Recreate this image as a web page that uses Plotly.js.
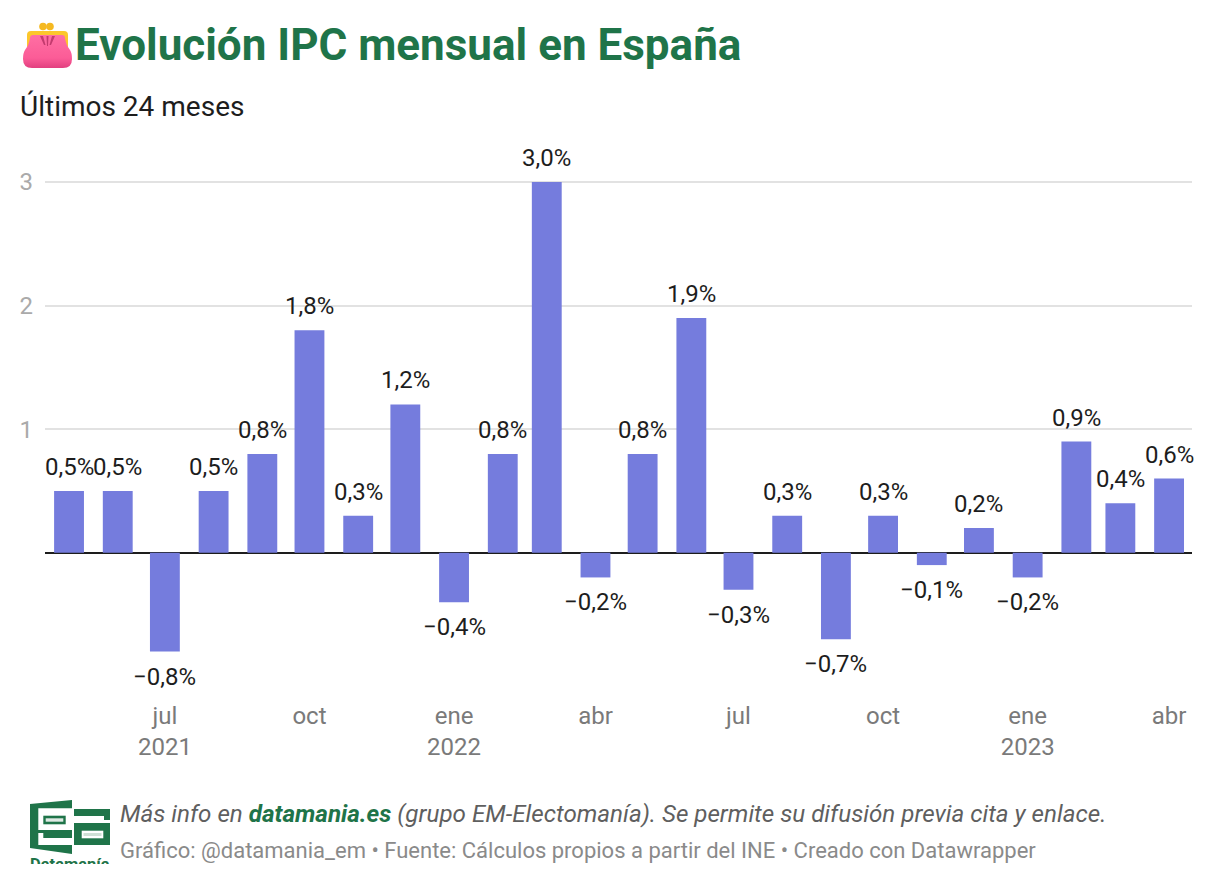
<!DOCTYPE html>
<html lang="es">
<head>
<meta charset="utf-8">
<title>Evolución IPC mensual en España</title>
<script src="https://cdn.plot.ly/plotly-3.0.1.min.js"></script>
<style>
  html, body { margin: 0; padding: 0; background: #fff; }
  #chart { width: 1212px; height: 884px; }
</style>
</head>
<body>
<div id="chart"></div>
<script>
var months = ['2021-05-01', '2021-06-01', '2021-07-01', '2021-08-01', '2021-09-01', '2021-10-01',
  '2021-11-01', '2021-12-01', '2022-01-01', '2022-02-01', '2022-03-01', '2022-04-01', '2022-05-01',
  '2022-06-01', '2022-07-01', '2022-08-01', '2022-09-01', '2022-10-01', '2022-11-01', '2022-12-01',
  '2023-01-01', '2023-02-01', '2023-03-01', '2023-04-01'];
var ipc = [0.5, 0.5, -0.8, 0.5, 0.8, 1.8, 0.3, 1.2, -0.4, 0.8, 3.0, -0.2, 0.8, 1.9, -0.3, 0.3,
  -0.7, 0.3, -0.1, 0.2, -0.2, 0.9, 0.4, 0.6];
var tickMonths = ['2021-07-01', '2021-10-01', '2022-01-01', '2022-04-01', '2022-07-01', '2022-10-01',
  '2023-01-01', '2023-04-01'];
var tickLabels = ['jul<br>2021', 'oct', 'ene<br>2022', 'abr', 'jul', 'oct', 'ene<br>2023', 'abr'];
var yTicks = [0, 1, 2, 3];
var yLabels = ['', '1', '2', '3'];

var FONT = 'Roboto, sans-serif';
var GREEN = '#1f7449';
var W = 1212, H = 884;
var M = { l: 45, r: 20, t: 145, b: 183 };
var DAY = 86400000;

// pixel position on the page -> paper coordinates
function px(x) { return (x - M.l) / (W - M.l - M.r); }
function py(y) { return 1 - (y - M.t) / (H - M.t - M.b); }

function pageText(x, y, text, size, color) {
  return {
    xref: 'paper', yref: 'paper', x: px(x - 2), y: py(y), text: text, showarrow: false,
    xanchor: 'left', yanchor: 'middle', align: 'left',
    font: { family: FONT, size: size, color: color }
  };
}

function pageImage(svg, x, y, w, h) {
  return {
    source: 'data:image/svg+xml;charset=utf-8,' + encodeURIComponent(svg),
    xref: 'paper', yref: 'paper', x: px(x), y: py(y),
    sizex: w / (W - M.l - M.r), sizey: h / (H - M.t - M.b),
    xanchor: 'left', yanchor: 'top', sizing: 'stretch', layer: 'above'
  };
}

function fmtValue(v) {
  var s = Math.abs(v).toFixed(1).replace('.', ',') + '%';
  return v < 0 ? '\u2212' + s : s;
}

var purse = "<svg xmlns='http://www.w3.org/2000/svg' viewBox='0 0 49 47'>" +
  "<defs><linearGradient id='g' x1='0' y1='0' x2='0' y2='1'><stop offset='0' stop-color='#ff6fa3'/>" +
  "<stop offset='0.7' stop-color='#fb5c97'/><stop offset='1' stop-color='#e23f7f'/></linearGradient></defs>" +
  "<circle cx='20' cy='4.5' r='3.8' fill='#f5b921'/><circle cx='27' cy='4.5' r='3.8' fill='#f5b921'/>" +
  "<path d='M4 28 V13 Q4 9 8 9 H41 Q45 9 45 13 V28 Z' fill='#fcc72c'/>" +
  "<path d='M7 16 Q7 13 10 13 H39 Q42 13 42 16 Q43 23 47 28 Q49 31 49 37 Q49 46 40 46 H9 Q0 46 0 37 Q0 31 2 28 Q6 23 7 16 Z' fill='url(#g)'/>" +
  "<path d='M23.5 14 L24 24 L25 24 L25.5 14 Z M29 14 L26.5 23 L28 23 L32 14 Z M20 14 L22.5 23 L21 23 L17 14 Z' fill='#c33a6e'/>" +
  "</svg>";

var logo = "<svg xmlns='http://www.w3.org/2000/svg' viewBox='0 0 80 64'>" +
  "<g fill='" + GREEN + "'>" +
  "<path d='M0 4 L42 0 V8.3 H8.3 V30 H42 V38 H13.3 V33 H8.3 V45 H42 V54 L0 48 Z'/>" +
  "<rect x='13.3' y='15.7' width='22.4' height='8.6'/>" +
  "<path d='M44 9 H80 V20 H74 V16 H44 Z'/>" +
  "<rect x='44' y='23' width='36' height='22'/>" +
  "</g>" +
  "<rect x='15.7' y='18.3' width='17.6' height='3.4' fill='#dfeae4'/>" +
  "<rect x='51.7' y='30.7' width='21.6' height='7.6' fill='#fff'/><rect x='53.5' y='33' width='18' height='3' fill='#cfe0d6'/>" +
  "<text x='0' y='70' font-family='Roboto' font-weight='700' font-size='16.5' fill='" + GREEN + "'>Datamanía</text>" +
  "</svg>";

var trace = {
  type: 'bar',
  x: months,
  y: ipc,
  marker: { color: '#757cdd', line: { width: 0 } },
  width: 19 * DAY,
  hoverinfo: 'x+y'
};

// value labels sit a fixed gap off the bar end
var valueLabels = months.map(function (m, i) {
  var up = ipc[i] >= 0;
  return {
    x: m, y: ipc[i], xref: 'x', yref: 'y', text: fmtValue(ipc[i]), showarrow: false,
    xanchor: 'center', yanchor: up ? 'bottom' : 'top', yshift: up ? 8 : -9,
    font: { family: FONT, size: 24, color: '#1d1d1d' }
  };
});

var layout = {
  width: W,
  height: H,
  margin: M,
  paper_bgcolor: '#fff',
  plot_bgcolor: '#fff',
  showlegend: false,
  font: { family: FONT },
  xaxis: {
    type: 'date',
    tickmode: 'array',
    tickvals: tickMonths,
    ticktext: tickLabels,
    tickfont: { family: FONT, size: 24, color: '#7a7a7a' },
    ticks: '',
    ticklabelstandoff: -2,
    showgrid: false,
    zeroline: false,
    showline: false,
    range: ['2021-04-15 17:00', '2023-04-15 14:00']
  },
  yaxis: {
    range: [-1.2, 3.3],
    tickmode: 'array',
    tickvals: yTicks,
    ticktext: yLabels,
    tickfont: { family: FONT, size: 24, color: '#aaaaaa' },
    ticks: '',
    ticklabelstandoff: 11,
    gridcolor: '#e2e2e2',
    gridwidth: 1.5,
    zeroline: true,
    zerolinecolor: '#1d1d1d',
    zerolinewidth: 2,
    showline: false
  },
  annotations: valueLabels.concat([
    pageText(75, 45, '<b>Evolución IPC mensual en España</b>', 44, GREEN),
    pageText(20, 106, 'Últimos 24 meses', 28, '#1d1d1d'),
    pageText(120, 814, '<i>Más info en <b><span style="color:' + GREEN + '">datamania.es</span></b> (grupo EM-Electomanía). Se permite su difusión previa cita y enlace.</i>', 24.2, '#5f5f5f'),
    pageText(120, 850, 'Gráfico: @datamania_em • Fuente: Cálculos propios a partir del INE • Creado con Datawrapper', 22, '#8a8a8a')
  ]),
  images: [
    pageImage(purse, 23, 22, 49, 47),
    pageImage(logo, 30, 800, 80, 64)
  ]
};

Plotly.newPlot('chart', [trace], layout, { displayModeBar: false, responsive: false });
</script>
</body>
</html>
